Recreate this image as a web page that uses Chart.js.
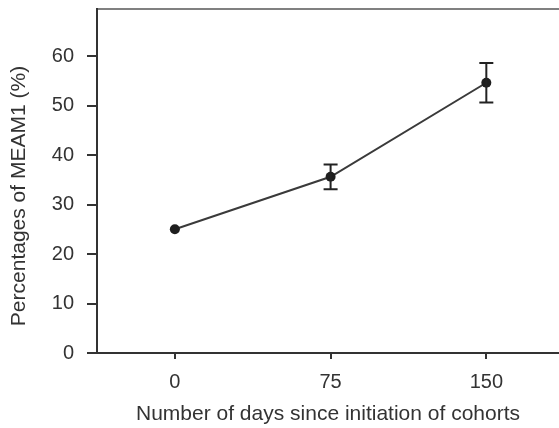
<!DOCTYPE html>
<html>
<head>
<meta charset="utf-8">
<script src="https://cdn.jsdelivr.net/npm/chart.js@4"></script>
<style>
  html, body { margin: 0; padding: 0; background: #fff; }
  #wrap { width: 559px; height: 428px; }
</style>
</head>
<body>
<div id="wrap"><canvas id="c" width="559" height="428"></canvas></div>
<script>
// Share of MEAM1 over time since the cohorts were started
const days = [0, 75, 150];
const meam1Pct = [25, 35.6, 54.6];
const meam1Err = [0, 2.5, 4.0];
const xTickValues = [0, 75, 150];
const yTickValues = [0, 10, 20, 30, 40, 50, 60];
const xTitle = 'Number of days since initiation of cohorts';
const yTitle = 'Percentages of MEAM1 (%)';

const ink = '#333333';
const fontFamily = '"Liberation Sans", Arial, sans-serif';

// Vertical error bars with caps, placed through the chart's scales
const errorBars = {
  id: 'errorBars',
  afterDatasetsDraw(chart) {
    const { ctx, scales: { x, y } } = chart;
    ctx.save();
    ctx.strokeStyle = '#222';
    ctx.lineWidth = 2;
    days.forEach((d, i) => {
      const e = meam1Err[i];
      if (!e) return;
      const px = x.getPixelForValue(d);
      const top = y.getPixelForValue(meam1Pct[i] + e);
      const bot = y.getPixelForValue(meam1Pct[i] - e);
      const cap = 7;
      ctx.beginPath();
      ctx.moveTo(px, top); ctx.lineTo(px, bot);
      ctx.moveTo(px - cap, top); ctx.lineTo(px + cap, top);
      ctx.moveTo(px - cap, bot); ctx.lineTo(px + cap, bot);
      ctx.stroke();
    });
    ctx.restore();
  }
};

// Rotated y-axis title, set a little below the middle of the axis
const yAxisTitle = {
  id: 'yAxisTitle',
  afterDraw(chart) {
    const { ctx, chartArea } = chart;
    const cy = (chartArea.top + chartArea.bottom) / 2 + 15;
    ctx.save();
    ctx.translate(19, cy);
    ctx.rotate(-Math.PI / 2);
    ctx.fillStyle = ink;
    ctx.font = '21px ' + fontFamily;
    ctx.textAlign = 'center';
    ctx.textBaseline = 'middle';
    ctx.fillText(yTitle, 0, 0);
    ctx.restore();
  }
};

new Chart(document.getElementById('c'), {
  type: 'line',
  data: {
    datasets: [{
      data: days.map((d, i) => ({ x: d, y: meam1Pct[i] })),
      borderColor: '#3a3a3a',
      borderWidth: 2,
      pointRadius: 5,
      pointBackgroundColor: '#1e1e1e',
      pointBorderColor: '#1e1e1e',
      pointBorderWidth: 0,
      tension: 0,
      clip: false
    }]
  },
  options: {
    responsive: false,
    animation: false,
    events: [],
    layout: { autoPadding: false, padding: { top: 9, right: 0, left: 0, bottom: 0 } },
    plugins: { legend: { display: false }, tooltip: { enabled: false } },
    scales: {
      x: {
        type: 'linear',
        position: 'bottom',
        min: -37.5,
        max: 185,
        afterBuildTicks: (axis) => { axis.ticks = xTickValues.map(v => ({ value: v })); },
        afterFit: (axis) => {
          axis.height = 75;
          axis.paddingLeft = 0; axis.paddingRight = 0;
        },
        grid: { drawOnChartArea: false, drawTicks: true, tickLength: 6, color: ink, lineWidth: 2 },
        border: { display: true, color: ink, width: 2 },
        ticks: { color: ink, font: { family: fontFamily, size: 20 }, padding: 11, maxRotation: 0 },
        title: {
          display: true,
          text: xTitle,
          color: ink,
          font: { family: fontFamily, size: 21 },
          padding: { top: 0, bottom: 1 }
        }
      },
      xTop: {
        type: 'linear',
        position: 'top',
        min: -37.5,
        max: 185,
        afterFit: (axis) => {
          axis.height = 0;
          axis.paddingLeft = 0; axis.paddingRight = 0;
        },
        grid: { display: true, drawOnChartArea: false, drawTicks: false },
        border: { display: true, color: '#808080', width: 2 },
        ticks: { display: false }
      },
      y: {
        type: 'linear',
        min: 0,
        max: 69.5,
        afterBuildTicks: (axis) => { axis.ticks = yTickValues.map(v => ({ value: v })); },
        afterFit: (axis) => {
          axis.width = 97;
          axis.paddingTop = 0; axis.paddingBottom = 0;
        },
        grid: { drawOnChartArea: false, drawTicks: true, tickLength: 10, color: ink, lineWidth: 2 },
        border: { display: true, color: ink, width: 2 },
        ticks: { color: ink, font: { family: fontFamily, size: 20 }, padding: 13 }
      }
    }
  },
  plugins: [errorBars, yAxisTitle]
});
</script>
</body>
</html>
